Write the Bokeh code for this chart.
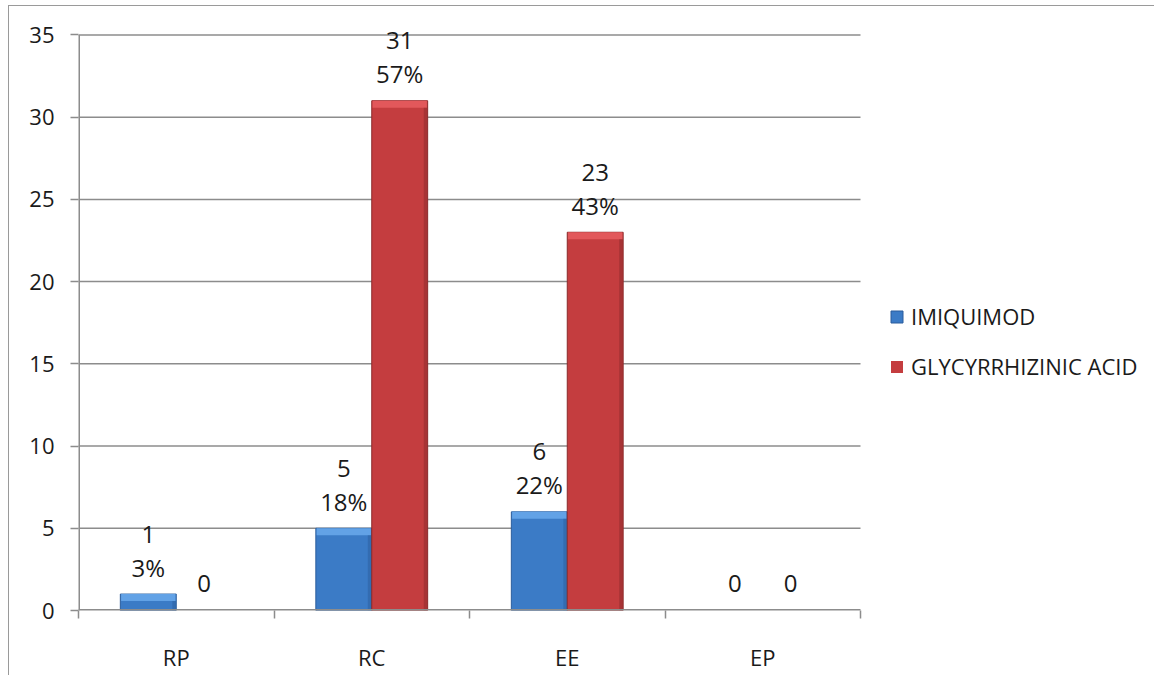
from bokeh.plotting import figure
from bokeh.models import (ColumnDataSource, FixedTicker, Legend, LegendItem,
                          Range1d)
from bokeh.core.properties import value
from bokeh.embed import file_html
from bokeh.resources import INLINE

# ---- data ----
categories = ["RP", "RC", "EE", "EP"]
imiquimod = [1, 5, 6, 0]
imiquimod_pct = ["3%", "18%", "22%", ""]
glycyrrhizinic = [0, 31, 23, 0]
glycyrrhizinic_pct = ["", "57%", "43%", ""]
series_names = ["IMIQUIMOD", "GLYCYRRHIZINIC ACID"]
y_ticks = [0, 5, 10, 15, 20, 25, 30, 35]
y_max = 35

FONT = "Open Sans"
BAR_W = 0.286
CAP = 0.42  # bevel cap height in data units
GRAY = "#8c8c8c"
N = len(categories)

border_css = """
:host { position: relative; }
:host::after {
  content: "";
  position: absolute;
  left: 8px; top: 5px; right: -2px; bottom: -2px;
  border-left: 1.5px solid #9a9a9a;
  border-top: 1.5px solid #9a9a9a;
  pointer-events: none;
  z-index: 10;
}
"""

p = figure(width=1154, height=675, output_backend="svg", toolbar_location=None,
           min_border_left=78, min_border_right=0, min_border_top=18,
           min_border_bottom=65, stylesheets=[border_css])
# plot area spans the category slots; the extra room on the right holds the legend
p.x_range = Range1d(0, N * (1154 - 78) / 782)
p.y_range = Range1d(0, 36)
p.outline_line_color = None
p.background_fill_color = "white"
p.border_fill_color = "white"

centers = [i + 0.5 for i in range(N)]

# gridlines limited to the plot area
p.segment(x0=[0] * (len(y_ticks) - 1), x1=[N] * (len(y_ticks) - 1),
          y0=y_ticks[1:], y1=y_ticks[1:], line_color=GRAY, line_width=1.5)

def series(vals, pcts, offset, main, cap, edge):
    xs = [c + offset for c in centers]
    src = ColumnDataSource(dict(x=xs, top=vals,
                                la=[1.0 if v > 0 else 0.0 for v in vals]))
    r = p.vbar(x="x", top="top", width=BAR_W, source=src, fill_color=main,
               line_color=edge, line_width=1, line_alpha="la")
    nz = [(x, v) for x, v in zip(xs, vals) if v > 0]
    if nz:
        cs = ColumnDataSource(dict(
            left=[x - BAR_W / 2 + 0.004 for x, _ in nz],
            right=[x + BAR_W / 2 - 0.004 for x, _ in nz],
            top=[v for _, v in nz],
            bottom=[v - CAP for _, v in nz]))
        p.quad(left="left", right="right", top="top", bottom="bottom",
               source=cs, fill_color=cap, line_color=None)
        ds = ColumnDataSource(dict(
            left=[x + BAR_W / 2 - 0.02 for x, _ in nz],
            right=[x + BAR_W / 2 - 0.002 for x, _ in nz],
            top=[v - CAP for _, v in nz],
            bottom=[0 for _ in nz]))
        p.quad(left="left", right="right", top="top", bottom="bottom",
               source=ds, fill_color=edge, fill_alpha=0.5, line_color=None)
    line1 = [str(v) if v else "" for v in vals]
    line2 = [pc if v else "0" for v, pc in zip(vals, pcts)]
    ls = ColumnDataSource(dict(x=xs, y=vals, t1=line1, t2=line2))
    for col, off in (("t1", -60), ("t2", -27)):
        p.text(x="x", y="y", text=col, source=ls, y_offset=off,
               text_align="center", text_baseline="middle",
               text_font=value(FONT), text_font_size="24px",
               text_color="#1a1a1a")
    return r

r1 = series(imiquimod, imiquimod_pct, -BAR_W / 2, "#3b7bc6", "#62a2e6", "#2b5d9c")
r2 = series(glycyrrhizinic, glycyrrhizinic_pct, BAR_W / 2, "#c43d3f", "#e2585b", "#8a2a2b")

# axis lines (drawn over the bars' bases)
p.segment(x0=[0], y0=[0], x1=[0], y1=[y_max], line_color=GRAY, line_width=3)
p.segment(x0=[0], y0=[0], x1=[N], y1=[0], line_color=GRAY, line_width=3)

# axes
xa = p.xaxis[0]
xa.ticker = FixedTicker(ticks=centers, minor_ticks=list(range(N + 1)))
xa.major_label_overrides = {c: name for c, name in zip(centers, categories)}
xa.major_tick_line_color = None
xa.major_tick_out = 0
xa.major_tick_in = 0
xa.minor_tick_out = 8
xa.minor_tick_in = 0
xa.minor_tick_line_color = GRAY
xa.minor_tick_line_width = 1.5
xa.axis_line_color = None
xa.major_label_standoff = 23
xa.major_label_text_font = FONT
xa.major_label_text_font_size = "22px"
xa.major_label_text_color = "#1a1a1a"

ya = p.yaxis[0]
ya.ticker = FixedTicker(ticks=y_ticks)
ya.minor_tick_line_color = None
ya.major_tick_out = 8
ya.major_tick_in = 0
ya.major_tick_line_color = GRAY
ya.major_tick_line_width = 1.5
ya.axis_line_color = None
ya.major_label_standoff = 16
ya.major_label_text_font = FONT
ya.major_label_text_font_size = "22px"
ya.major_label_text_color = "#1a1a1a"

p.xgrid.grid_line_color = None
p.ygrid.grid_line_color = None

legend = Legend(items=[LegendItem(label=series_names[0], renderers=[r1]),
                       LegendItem(label=series_names[1], renderers=[r2])],
                location=(811, 229), orientation="vertical",
                padding=0, margin=0, border_line_color=None,
                background_fill_alpha=0, glyph_width=15, glyph_height=15,
                label_height=20, spacing=20, label_standoff=7,
                label_text_font=FONT, label_text_font_size="22px",
                label_text_color="#1a1a1a")
p.add_layout(legend, "center")

open("out.html", "w").write(file_html(p, INLINE))
